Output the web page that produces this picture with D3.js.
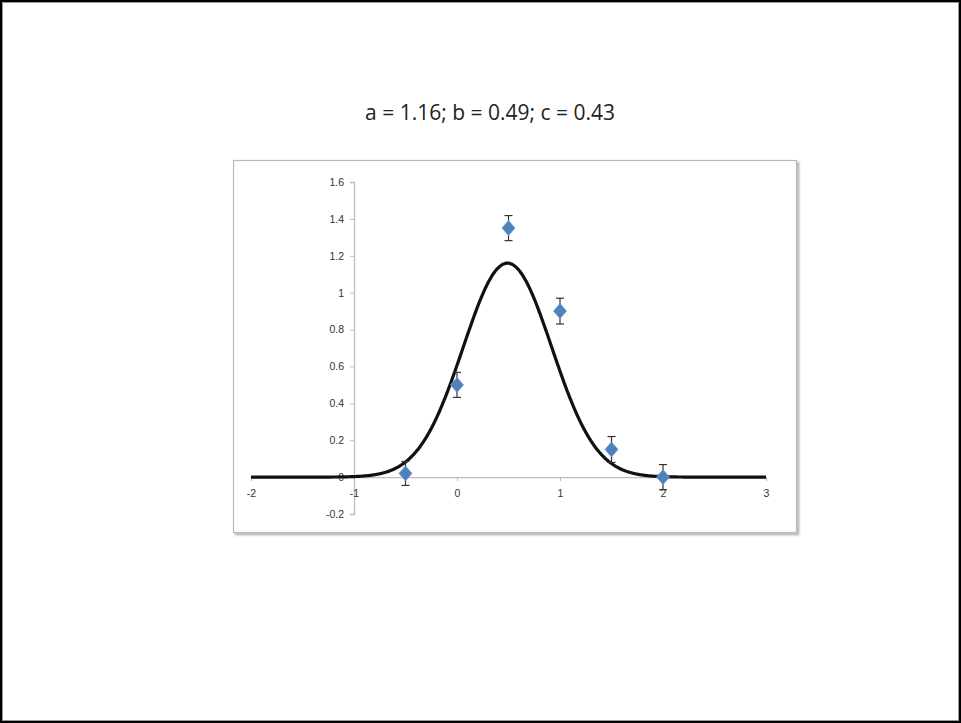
<!DOCTYPE html>
<html>
<head>
<meta charset="utf-8">
<script src="https://cdn.jsdelivr.net/npm/d3@7"></script>
<style>
  html, body { margin: 0; padding: 0; background: #fff; }
  svg { display: block; }
</style>
</head>
<body>
<svg id="chart" width="961" height="723"></svg>
<script>
// Measured points with symmetric error bars
const xValues = [-0.5, 0, 0.5, 1, 1.5, 2];
const yValues = [0.02, 0.5, 1.35, 0.9, 0.15, 0.0];
const yErrors = [0.065, 0.068, 0.068, 0.07, 0.07, 0.068];

// Gaussian fit parameters: a * exp(-(x-b)^2 / (2c^2))
const fitNames = ["a", "b", "c"];
const fitValues = [1.16, 0.49, 0.43];

// Axis ticks
const xTicks = [-2, -1, 0, 1, 2, 3];
const yTicks = [-0.2, 0, 0.2, 0.4, 0.6, 0.8, 1, 1.2, 1.4, 1.6];

const svg = d3.select("#chart");
const W = 961, H = 723;

// Slide frame
svg.append("rect").attr("x", 1).attr("y", 1).attr("width", W - 2).attr("height", H - 2)
  .attr("fill", "#fff").attr("stroke", "#000").attr("stroke-width", 2);
svg.append("rect").attr("x", 2.5).attr("y", 2.5).attr("width", W - 5).attr("height", H - 5)
  .attr("fill", "none").attr("stroke", "#9a9a9a").attr("stroke-width", 1);

// Title with fit parameters
svg.append("text")
  .attr("x", 490).attr("y", 120)
  .attr("text-anchor", "middle")
  .attr("font-family", "'Open Sans', 'Liberation Sans', sans-serif")
  .attr("font-size", 21)
  .attr("fill", "#222")
  .text(fitNames.map((n, i) => `${n} = ${fitValues[i].toFixed(2)}`).join("; "));

// Chart area frame with soft shadow
const defs = svg.append("defs");
const f = defs.append("filter").attr("id", "shadow").attr("x", "-5%").attr("y", "-5%").attr("width", "110%").attr("height", "110%");
f.append("feDropShadow").attr("dx", 2).attr("dy", 2).attr("stdDeviation", 1.2).attr("flood-color", "#000").attr("flood-opacity", 0.35);

svg.append("rect")
  .attr("x", 233.5).attr("y", 160.5).attr("width", 563).attr("height", 372)
  .attr("fill", "#fff").attr("stroke", "#b8b8b8").attr("stroke-width", 1.2)
  .attr("filter", "url(#shadow)");

// Scales
const x = d3.scaleLinear().domain([-2, 3]).range([251, 766]);
const y = d3.scaleLinear().domain([-0.2, 1.6]).range([514, 182]);

const axisColor = "#bdbdbd";
const labelFont = "'Liberation Sans', Arial, sans-serif";
const plainNum = d => String(+d.toFixed(1));

// Y axis crossing at x = -1
const yAxis = svg.append("g")
  .attr("transform", `translate(${x(-1)},0)`)
  .call(d3.axisLeft(y).tickValues(yTicks).tickSize(4).tickPadding(6).tickFormat(plainNum));
yAxis.select(".domain").attr("stroke", axisColor).attr("stroke-width", 1.3);
yAxis.selectAll(".tick line").attr("stroke", axisColor);
yAxis.selectAll(".tick text").attr("font-family", labelFont).attr("font-size", 10.5).attr("fill", "#333");

// X axis crossing at y = 0
const xAxis = svg.append("g")
  .attr("transform", `translate(0,${y(0)})`)
  .call(d3.axisBottom(x).tickValues(xTicks).tickSize(4).tickPadding(8).tickFormat(plainNum));
xAxis.select(".domain").attr("stroke", axisColor).attr("stroke-width", 1.3);
xAxis.selectAll(".tick line").attr("stroke", axisColor);
xAxis.selectAll(".tick text").attr("font-family", labelFont).attr("font-size", 10.5).attr("fill", "#333");

// Fitted curve from the stated parameters
const [a, b, c] = fitValues;
const curveX = d3.range(-2, 3.0001, 0.01);
const gauss = t => a * Math.exp(-((t - b) ** 2) / (2 * c * c));
svg.append("path")
  .datum(curveX)
  .attr("fill", "none")
  .attr("stroke", "#111")
  .attr("stroke-width", 3.2)
  .attr("d", d3.line().x(t => x(t)).y(t => y(gauss(t))).curve(d3.curveMonotoneX));

// Error bars
const pts = xValues.map((v, i) => ({ x: v, y: yValues[i], e: yErrors[i] }));
const eb = svg.append("g").attr("stroke", "#333").attr("stroke-width", 1.2);
pts.forEach(p => {
  eb.append("line").attr("x1", x(p.x)).attr("x2", x(p.x)).attr("y1", y(p.y + p.e)).attr("y2", y(p.y - p.e));
  [p.y + p.e, p.y - p.e].forEach(v => {
    eb.append("line").attr("x1", x(p.x) - 4).attr("x2", x(p.x) + 4).attr("y1", y(v)).attr("y2", y(v));
  });
});

// Diamond markers (slightly taller than wide)
const diamond = "M0,-7.5L6.5,0L0,7.5L-6.5,0Z";
svg.append("g").selectAll("path")
  .data(pts)
  .join("path")
  .attr("transform", d => `translate(${x(d.x)},${y(d.y)})`)
  .attr("d", diamond)
  .attr("fill", "#4f81bd")
  .attr("stroke", "#6f99cf")
  .attr("stroke-width", 0.8);
</script>
</body>
</html>
